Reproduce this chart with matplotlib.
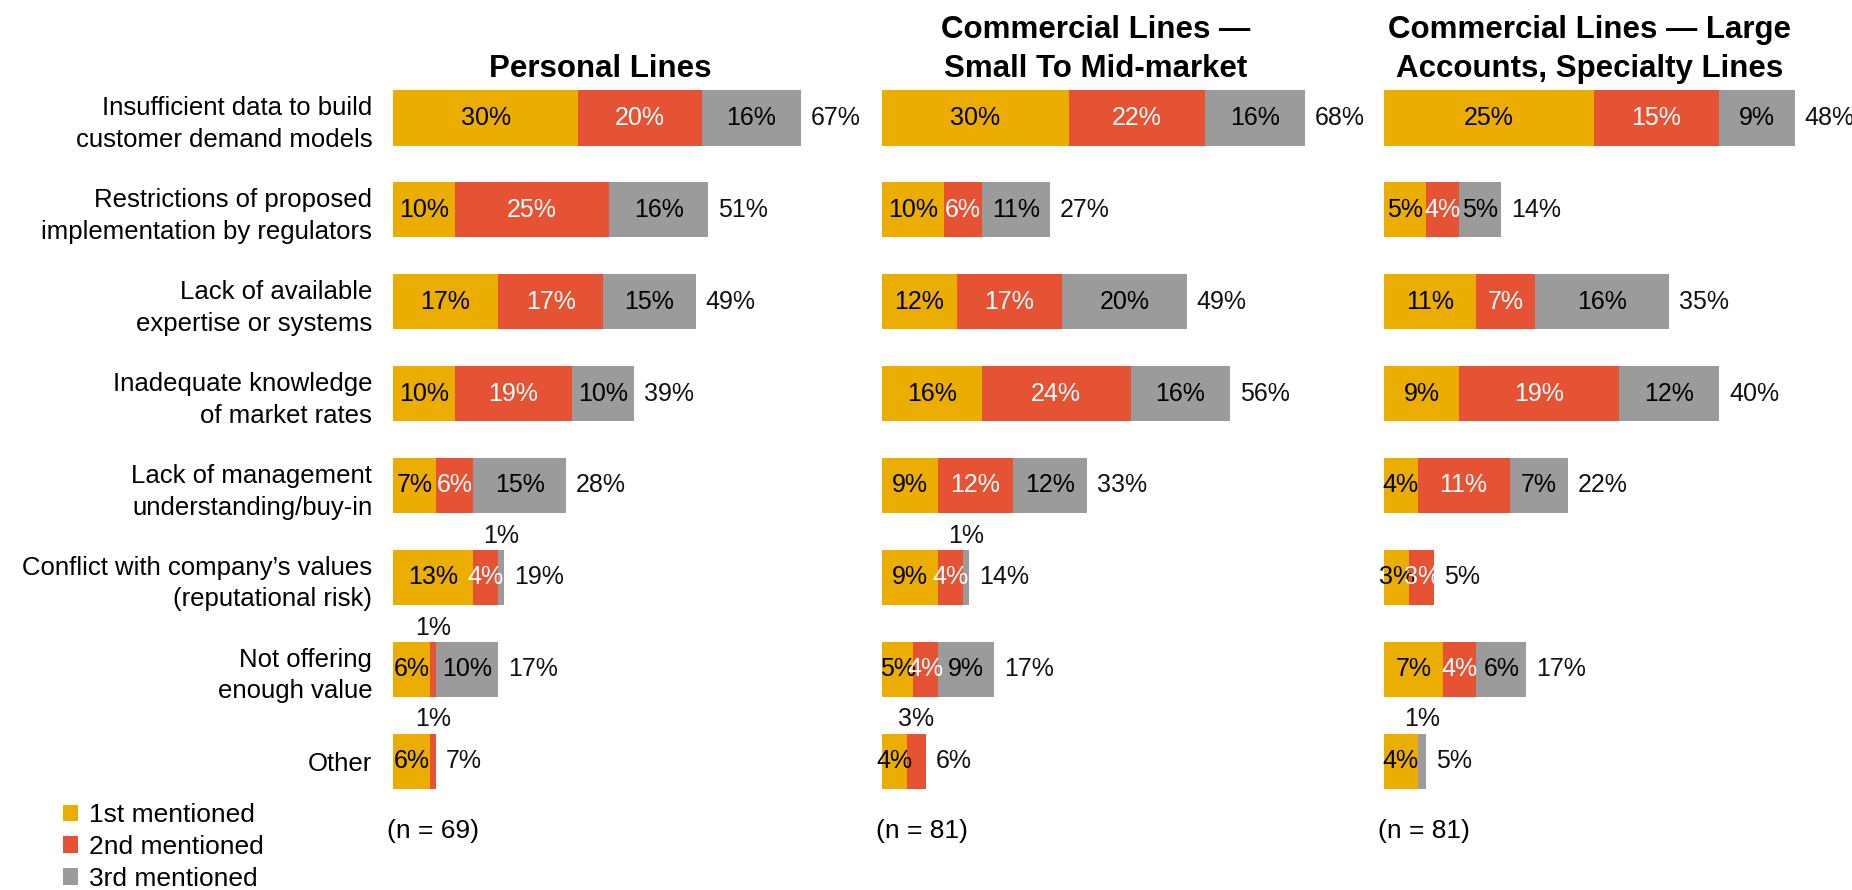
import matplotlib
matplotlib.use("Agg")
import matplotlib.pyplot as plt
from matplotlib.patches import Patch

plt.rcParams['font.family'] = ['Liberation Sans', 'DejaVu Sans']

# survey data: share of respondents naming each barrier 1st / 2nd / 3rd
barriers = [
    "Insufficient data to build\ncustomer demand models",
    "Restrictions of proposed\nimplementation by regulators",
    "Lack of available\nexpertise or systems",
    "Inadequate knowledge\nof market rates",
    "Lack of management\nunderstanding/buy-in",
    "Conflict with company\u2019s values\n(reputational risk)",
    "Not offering\nenough value",
    "Other",
]
series_names = ["1st mentioned", "2nd mentioned", "3rd mentioned"]

panel_titles = [
    "Personal Lines",
    "Commercial Lines \u2014\nSmall To Mid-market",
    "Commercial Lines \u2014 Large\nAccounts, Specialty Lines",
]
sample_sizes = [69, 81, 81]

personal_1st = [30, 10, 17, 10, 7, 13, 6, 6]
personal_2nd = [20, 25, 17, 19, 6, 4, 1, 1]
personal_3rd = [16, 16, 15, 10, 15, 1, 10, 0]
personal_total = [67, 51, 49, 39, 28, 19, 17, 7]

small_mid_1st = [30, 10, 12, 16, 9, 9, 5, 4]
small_mid_2nd = [22, 6, 17, 24, 12, 4, 4, 3]
small_mid_3rd = [16, 11, 20, 16, 12, 1, 9, 0]
small_mid_total = [68, 27, 49, 56, 33, 14, 17, 6]

large_1st = [25, 5, 11, 9, 4, 3, 7, 4]
large_2nd = [15, 4, 7, 19, 11, 3, 4, 0]
large_3rd = [9, 5, 16, 12, 7, 0, 6, 1]
large_total = [48, 14, 35, 40, 22, 5, 17, 5]

panels = [
    (personal_1st, personal_2nd, personal_3rd, personal_total),
    (small_mid_1st, small_mid_2nd, small_mid_3rd, small_mid_total),
    (large_1st, large_2nd, large_3rd, large_total),
]

# segments whose label sits above the bar (row, series)
labels_above = [
    {(5, 2), (6, 1), (7, 1)},
    {(5, 2), (7, 1)},
    {(7, 2)},
]

colors = ["#EBAD00", "#E55234", "#9B9B9B"]
text_colors = ["black", "white", "black"]

W, H = 1852, 890
fig = plt.figure(figsize=(W / 100, H / 100), dpi=100)

ax_left = [393, 882, 1384]
ax_width = 430
px_per_pct = [6.18, 6.22, 8.38]
title_x = [600, 1096, 1590]
ax_top, ax_bottom = 72, 807
bar_h = 0.6

for p, (s1, s2, s3, totals) in enumerate(panels):
    ax = fig.add_axes([ax_left[p] / W, 1 - ax_bottom / H,
                       ax_width / W, (ax_bottom - ax_top) / H])
    rows = list(range(len(barriers)))
    left = [0] * len(rows)
    for k, vals in enumerate([s1, s2, s3]):
        bars = ax.barh(rows, vals, left=left, height=bar_h, color=colors[k],
                       label=series_names[k])
        for i, (b, v) in enumerate(zip(bars, vals)):
            if v == 0:
                continue
            cx = b.get_x() + b.get_width() / 2
            if (i, k) in labels_above[p]:
                ax.annotate(f"{v}%", (cx, i - bar_h / 2), xytext=(0, 1.5),
                            textcoords="offset points", ha="center",
                            va="bottom", fontsize=18, color="#111111")
            else:
                ax.text(cx, i, f"{v}%", ha="center", va="center",
                        fontsize=18, color=text_colors[k])
        left = [a + b for a, b in zip(left, vals)]
    for i, t in enumerate(totals):
        ax.annotate(f"{t}%", (left[i], i), xytext=(7, 0),
                    textcoords="offset points", ha="left", va="center",
                    fontsize=18, color="#111111")

    ax.set_xlim(0, ax_width / px_per_pct[p])
    ax.set_ylim(len(barriers) - 0.5, -0.5)
    ax.set_xticks([])
    ax.set_yticks(rows)
    if p == 0:
        ax.set_yticklabels(barriers, fontsize=18.5, linespacing=1.4)
        ax.tick_params(axis="y", length=0, pad=15)
    else:
        ax.set_yticklabels([])
        ax.tick_params(axis="y", length=0)
    for sp in ax.spines.values():
        sp.set_visible(False)

    fig.text(title_x[p] / W, 1 - 84 / H, panel_titles[p], ha="center",
             va="bottom", fontsize=22.5, fontweight="bold", linespacing=1.4)
    fig.text((ax_left[p] - 6) / W, 1 - 838 / H, f"(n = {sample_sizes[p]})",
             ha="left", va="baseline", fontsize=19)

handles = [Patch(facecolor=c, edgecolor="none") for c in colors]
fig.legend(handles, series_names, loc="upper left",
           bbox_to_anchor=(63 / W, 1 - 803 / H), frameon=False, fontsize=19,
           handlelength=0.57, handleheight=0.57, handletextpad=0.4,
           labelspacing=0.3, borderpad=0, borderaxespad=0)

fig.savefig("out.png", dpi=100)
